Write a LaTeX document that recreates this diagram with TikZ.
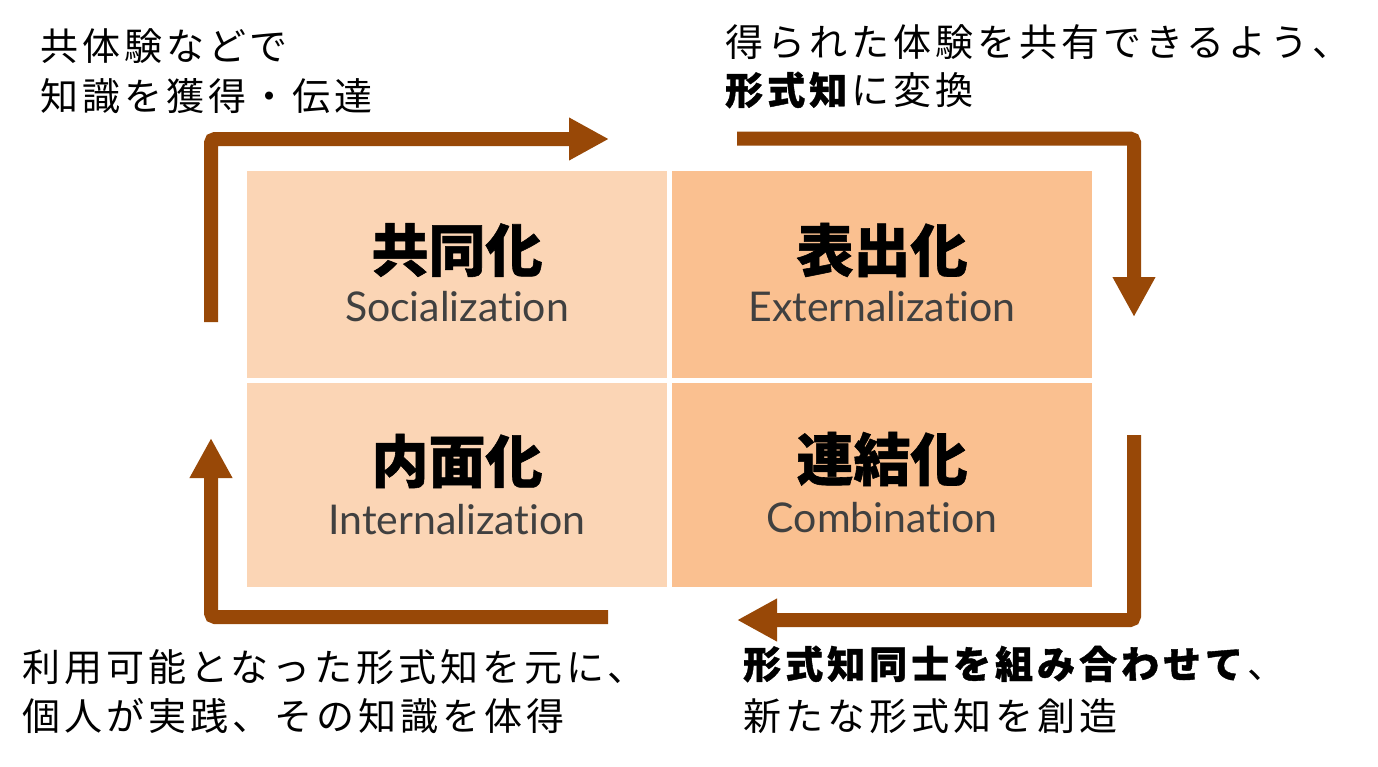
\documentclass[tikz,border=0pt]{standalone}
\usepackage{fontspec}
\usetikzlibrary{arrows.meta}
\newfontfamily\jp[LetterSpace=10.5, BoldFeatures={FakeBold=1}]{Noto Sans CJK JP}
\newfontfamily\jpt[BoldFeatures={FakeBold=1}]{Noto Sans CJK JP}
\newfontfamily\en[Ligatures={NoCommon}]{Lato}
\definecolor{lightpeach}{HTML}{FBD5B5}
\definecolor{darkpeach}{HTML}{FAC090}
\definecolor{arrowbrown}{HTML}{984807}
\definecolor{engray}{HTML}{404040}
\tikzset{
  quad/.style={minimum width=420pt, inner sep=0pt, outer sep=0pt, draw=none, anchor=north west},
  title/.style={font=\jpt\bfseries\fontsize{57}{60}\selectfont, inner sep=0pt},
  sub/.style={font=\en\fontsize{41}{44}\selectfont, text=engray, inner sep=0pt, anchor=base},
  body/.style={font=\jp\fontsize{38}{42}\selectfont, inner sep=0pt, anchor=west},
  flow/.style={draw=arrowbrown, line width=14pt, rounded corners=4pt, line cap=butt,
    -{Triangle[length=40pt,width=40pt]}}
}
\begin{document}
\begin{tikzpicture}[x=1pt,y=-1pt]
\useasboundingbox[fill=white] (0,0) rectangle (1378,766);
% quadrants
\node[quad, fill=lightpeach, minimum height=207pt] (soc) at (247,171) {};
\node[quad, fill=darkpeach, minimum height=207pt] (ext) at (672,171) {};
\node[quad, fill=lightpeach, minimum height=204pt] (int) at (247,383) {};
\node[quad, fill=darkpeach, minimum height=204pt] (com) at (672,383) {};
% titles
\node[title] (socT) at (457,250) {共同化};
\node[sub] (socS) at (457,321) {Socialization};
\node[title] (extT) at (882,250) {表出化};
\node[sub] (extS) at (882,321) {Externalization};
\node[title] (intT) at (457,461) {内面化};
\node[sub] (intS) at (457,534) {Internalization};
\node[title] (comT) at (882,459) {連結化};
\node[sub] (comS) at (882,532) {Combination};
% arrows
\coordinate (a1s) at (211,322); \coordinate (a1e) at (609,139);
\coordinate (a2s) at (737,138.5); \coordinate (a2e) at (1134,317);
\coordinate (a3s) at (1134,435); \coordinate (a3e) at (737,620);
\coordinate (a4s) at (608,617); \coordinate (a4e) at (211,438);
\draw[flow] (a1s) |- (a1e);
\draw[flow] (a2s) -| (a2e);
\draw[flow] (a3s) |- (a3e);
\draw[flow] (a4s) -| (a4e);
% descriptions
\node[body] (tl1) at (40,46) {共体験などで};
\node[body] (tl2) at (40,96) {知識を獲得・伝達};
\node[body] (tr1) at (725,42) {得られた体験を共有できるよう、};
\node[body] (tr2) at (725,90) {\textbf{形式知}に変換};
\node[body] (bl1) at (22,667) {利用可能となった形式知を元に、};
\node[body] (bl2) at (22,716) {個人が実践、その知識を体得};
\node[body] (br1) at (743,664) {\textbf{形式知同士を組み合わせて}、};
\node[body] (br2) at (743,716) {新たな形式知を創造};
\end{tikzpicture}
\end{document}
